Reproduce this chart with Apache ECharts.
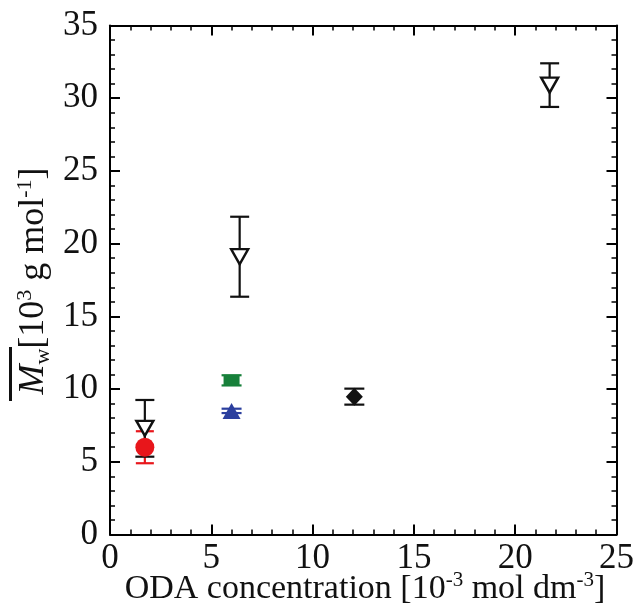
<!DOCTYPE html>
<html>
<head>
<meta charset="utf-8">
<script src="https://cdn.jsdelivr.net/npm/echarts@6/dist/echarts.min.js"></script>
<style>
html,body{margin:0;padding:0;background:#fff;}
#chart{width:637px;height:612px;}
</style>
</head>
<body>
<div id="chart"></div>
<script>
// ---- data ----
const xTicks = [0, 5, 10, 15, 20, 25];
const yTicks = [0, 5, 10, 15, 20, 25, 30, 35];

const redX = [1.72];
const redY = [6.0];
const redErr = [1.1];

const openTriX = [1.72, 6.4, 21.7];
const openTriY = [7.3, 19.1, 30.9];
const openTriErr = [1.95, 2.75, 1.5];

const greenX = [6.0];
const greenY = [10.6];
const greenErr = [0.35];

const blueX = [6.0];
const blueY = [8.5];
const blueErr = [0.15];

const diamondX = [12.06];
const diamondY = [9.48];
const diamondErr = [0.55];

const FONT = '"Liberation Serif", "Times New Roman", serif';
const LABEL_SIZE = 35;
const TITLE_SIZE = 34;
const YTITLE_SIZE = 36;
const SUP_SIZE = 21;

function pts(xs, ys) { return xs.map((x, i) => [x, ys[i]]); }
function errPts(xs, ys, es) { return xs.map((x, i) => [x, ys[i], es[i]]); }

function errSeries(xs, ys, es, color, capHalf) {
  return {
    type: 'custom',
    xAxisIndex: 0, yAxisIndex: 0,
    z: 2,
    silent: true,
    data: errPts(xs, ys, es),
    renderItem: function (params, api) {
      const x = api.value(0), y = api.value(1), e = api.value(2);
      const top = api.coord([x, y + e]);
      const bot = api.coord([x, y - e]);
      const st = { stroke: color, lineWidth: 2.2 };
      return {
        type: 'group',
        children: [
          { type: 'line', shape: { x1: top[0], y1: top[1], x2: bot[0], y2: bot[1] }, style: st },
          { type: 'line', shape: { x1: top[0] - capHalf, y1: top[1], x2: top[0] + capHalf, y2: top[1] }, style: st },
          { type: 'line', shape: { x1: bot[0] - capHalf, y1: bot[1], x2: bot[0] + capHalf, y2: bot[1] }, style: st }
        ]
      };
    }
  };
}

const chart = echarts.init(document.getElementById('chart'), null, { renderer: 'canvas' });

function axisBase(min, max) {
  return {
    type: 'value', min: min, max: max, interval: 5,
    axisLine: { show: true, onZero: false, lineStyle: { color: '#000', width: 2 } },
    axisTick: { show: true, inside: true, length: 10, lineStyle: { color: '#000', width: 2 } },
    minorTick: { show: true, splitNumber: 5, length: 5, lineStyle: { color: '#000', width: 1.5 } },
    splitLine: { show: false },
    minorSplitLine: { show: false }
  };
}

const option = {
  backgroundColor: '#fff',
  animation: false,
  grid: { left: 110, right: 17, top: 25.5, bottom: 77.5, containLabel: false },
  xAxis: [
    Object.assign(axisBase(0, 25), {
      position: 'bottom',
      axisLabel: { show: true, margin: 7, color: '#111', fontFamily: FONT, fontSize: LABEL_SIZE,
        formatter: function (v) { return xTicks.indexOf(v) >= 0 ? String(v) : ''; } }
    }),
    Object.assign(axisBase(0, 25), { position: 'top', axisLabel: { show: false } })
  ],
  yAxis: [
    Object.assign(axisBase(0, 35), {
      position: 'left',
      axisLabel: { show: true, margin: 12, color: '#111', fontFamily: FONT, fontSize: LABEL_SIZE,
        formatter: function (v) { return yTicks.indexOf(v) >= 0 ? String(v) : ''; } }
    }),
    Object.assign(axisBase(0, 35), { position: 'right', axisLabel: { show: false } })
  ],
  graphic: [
    {
      type: 'text',
      x: 34, y: 281,
      rotation: Math.PI / 2,
      style: {
        text: '{i|M}{sub|w}{n|[10}{sup|3}{n| g mol}{sup|-1}{n|]}',
        align: 'center',
        verticalAlign: 'middle',
        fill: '#111',
        rich: {
          i: { fontFamily: FONT, fontSize: YTITLE_SIZE, fontStyle: 'italic', lineHeight: 40, verticalAlign: 'middle', fill: '#111' },
          n: { fontFamily: FONT, fontSize: YTITLE_SIZE, lineHeight: 40, verticalAlign: 'middle', fill: '#111' },
          sup: { fontFamily: FONT, fontSize: 22, lineHeight: 22, verticalAlign: 'top', fill: '#111' },
          sub: { fontFamily: FONT, fontSize: 22, lineHeight: 22, verticalAlign: 'bottom', fill: '#111' }
        }
      }
    },
    {
      type: 'rect',
      shape: { x: 9, y: 347, width: 3, height: 54 },
      style: { fill: '#111' }
    },
    {
      type: 'text',
      x: 365, y: 589,
      style: {
        text: '{n|ODA concentration [10}{sup|-3}{n| mol dm}{sup|-3}{n|]}',
        align: 'center',
        verticalAlign: 'middle',
        fill: '#111',
        rich: {
          n: { fontFamily: FONT, fontSize: TITLE_SIZE, lineHeight: 38, verticalAlign: 'middle', fill: '#111' },
          sup: { fontFamily: FONT, fontSize: SUP_SIZE, lineHeight: 21, verticalAlign: 'top', fill: '#111' }
        }
      }
    }
  ],
  series: [
    errSeries(redX, redY, redErr, '#e8161b', 9),
    errSeries(openTriX, openTriY, openTriErr, '#111', 9.5),
    errSeries(greenX, greenY, greenErr, '#17803a', 10),
    errSeries(blueX, blueY, blueErr, '#2b3f9e', 10),
    errSeries(diamondX, diamondY, diamondErr, '#111', 10),
    {
      type: 'scatter', z: 3, data: pts(openTriX, openTriY),
      symbol: 'triangle', symbolRotate: 180, symbolSize: [17, 15],
      itemStyle: { color: '#fff', borderColor: '#111', borderWidth: 2.4, opacity: 1 }
    },
    {
      type: 'scatter', z: 4, data: pts(redX, redY),
      symbol: 'circle', symbolSize: 19,
      itemStyle: { color: '#e8161b', opacity: 1 }
    },
    {
      type: 'scatter', z: 4, data: pts(greenX, greenY),
      symbol: 'rect', symbolSize: [16, 11],
      itemStyle: { color: '#17803a', opacity: 1 }
    },
    {
      type: 'scatter', z: 4, data: pts(blueX, blueY),
      symbol: 'triangle', symbolSize: [18, 16],
      itemStyle: { color: '#2b3f9e', opacity: 1 }
    },
    {
      type: 'scatter', z: 4, data: pts(diamondX, diamondY),
      symbol: 'diamond', symbolSize: [17, 18],
      itemStyle: { color: '#111', opacity: 1 }
    }
  ]
};
chart.setOption(option);
</script>
</body>
</html>
